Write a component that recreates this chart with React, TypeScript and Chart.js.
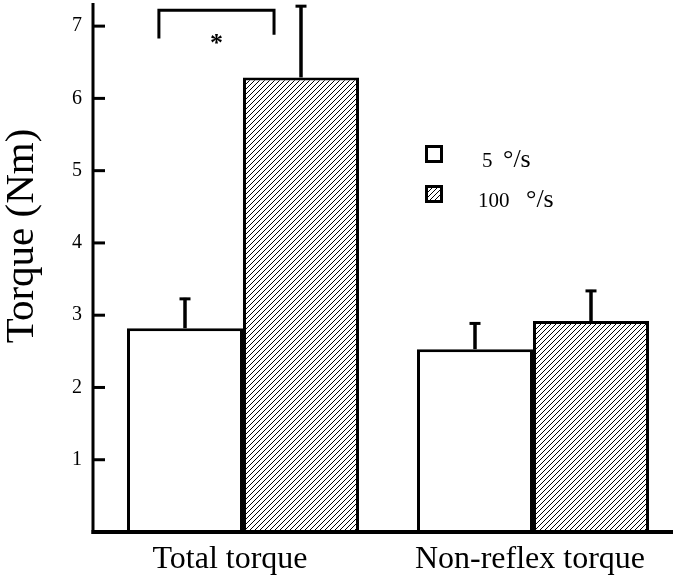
import React, { useEffect, useRef } from 'react';
import { Chart, registerables } from 'chart.js';

Chart.register(...registerables);

// ---- data ----
const categories = ['Total torque', 'Non-reflex torque'];
const seriesNames = ['5 °/s', '100 °/s'];
const slowMeans = [2.82, 2.53];
const slowSD = [0.42, 0.37];
const fastMeans = [6.29, 2.92];
const fastSD = [1.0, 0.43];
const yTickValues = [1, 2, 3, 4, 5, 6, 7];
const yMin = 0;
const yMax = 7.32;
const sigBracket = { x0: -0.29, x1: 0.107, top: 7.22, leftEnd: 6.83, rightEnd: 6.88, label: '*' };
const yTitle = 'Torque (Nm)';

// ---- style ----
const FONT = '"Liberation Serif", "Times New Roman", serif';
const categoryLabelNudge = [-13, -3];
const CANVAS_W = 680;
const CANVAS_H = 579;
const AXIS_X = 93; // pixel column of the drawn y axis line
const AXIS_RIGHT = 675;

function makeHatch(): CanvasPattern | string {
  const s = 5;
  const c = document.createElement('canvas');
  c.width = s;
  c.height = s;
  const g = c.getContext('2d');
  if (!g) return '#888';
  g.fillStyle = '#fff';
  g.fillRect(0, 0, s, s);
  g.strokeStyle = '#000';
  g.lineWidth = 1;
  g.beginPath();
  g.moveTo(0, s);
  g.lineTo(s, 0);
  g.moveTo(-1, 1);
  g.lineTo(1, -1);
  g.moveTo(s - 1, s + 1);
  g.lineTo(s + 1, s - 1);
  g.stroke();
  const p = g.createPattern(c, 'repeat');
  return p || '#888';
}

export default function App() {
  const ref = useRef<HTMLCanvasElement | null>(null);

  useEffect(() => {
    const canvas = ref.current;
    if (!canvas) return;
    const hatch = makeHatch();

    const overlay = {
      id: 'overlay',
      afterDatasetsDraw(chart: any) {
        const ctx = chart.ctx as CanvasRenderingContext2D;
        const xs = chart.scales.x;
        const ys = chart.scales.y;
        const area = chart.chartArea;
        ctx.save();
        ctx.strokeStyle = '#000';
        ctx.fillStyle = '#000';
        ctx.lineCap = 'butt';

        // error bars (upper only)
        const sds = [slowSD, fastSD];
        const means = [slowMeans, fastMeans];
        for (let d = 0; d < 2; d++) {
          const meta = chart.getDatasetMeta(d);
          meta.data.forEach((el: any, j: number) => {
            const yTop = ys.getPixelForValue(means[d][j] + sds[d][j]);
            const yBar = ys.getPixelForValue(means[d][j]);
            ctx.lineWidth = 3.5;
            ctx.beginPath();
            ctx.moveTo(el.x, yBar);
            ctx.lineTo(el.x, yTop);
            ctx.stroke();
            ctx.lineWidth = 3;
            ctx.beginPath();
            ctx.moveTo(el.x - 5.5, yTop + 1);
            ctx.lineTo(el.x + 5.5, yTop + 1);
            ctx.stroke();
          });
        }

        // axes lines
        const y0 = ys.getPixelForValue(0);
        ctx.lineWidth = 3;
        ctx.beginPath();
        ctx.moveTo(AXIS_X, area.top);
        ctx.lineTo(AXIS_X, y0 + 2);
        ctx.stroke();
        ctx.lineWidth = 4;
        ctx.beginPath();
        ctx.moveTo(AXIS_X - 1.5, y0);
        ctx.lineTo(AXIS_RIGHT - 2, y0);
        ctx.stroke();

        // inward y tick marks
        ctx.lineWidth = 3;
        yTickValues.forEach((v) => {
          const y = ys.getPixelForValue(v);
          ctx.beginPath();
          ctx.moveTo(AXIS_X, y);
          ctx.lineTo(AXIS_X + 12, y);
          ctx.stroke();
        });

        // significance bracket
        const bx0 = xs.getPixelForValue(sigBracket.x0);
        const bx1 = xs.getPixelForValue(sigBracket.x1);
        const bt = ys.getPixelForValue(sigBracket.top);
        ctx.lineWidth = 3;
        ctx.beginPath();
        ctx.moveTo(bx0, ys.getPixelForValue(sigBracket.leftEnd));
        ctx.lineTo(bx0, bt);
        ctx.lineTo(bx1, bt);
        ctx.lineTo(bx1, ys.getPixelForValue(sigBracket.rightEnd));
        ctx.stroke();
        ctx.font = `bold 26px ${FONT}`;
        ctx.textAlign = 'center';
        ctx.textBaseline = 'alphabetic';
        ctx.fillText(sigBracket.label, (bx0 + bx1) / 2, bt + 41);

        // legend
        const lx = 425;
        const ly = [145, 185];
        const numX = [482, 478];
        const unitX = [503, 526];
        const fills: any[] = ['#fff', hatch];
        ctx.textAlign = 'left';
        for (let i = 0; i < 2; i++) {
          ctx.fillStyle = fills[i];
          ctx.fillRect(lx, ly[i], 18, 18);
          ctx.lineWidth = 3;
          ctx.strokeStyle = '#000';
          ctx.strokeRect(lx + 1.5, ly[i] + 1.5, 15, 15);
          ctx.fillStyle = '#000';
          const name = seriesNames[i];
          const sp = name.indexOf(' ');
          ctx.font = `21px ${FONT}`;
          ctx.fillText(name.slice(0, sp), numX[i], ly[i] + 22);
          ctx.font = `26px ${FONT}`;
          ctx.fillText(name.slice(sp + 1), unitX[i], ly[i] + 22);
        }

        // category labels
        ctx.font = `32px ${FONT}`;
        ctx.textAlign = 'center';
        categories.forEach((c, i) => {
          ctx.fillText(c, xs.getPixelForValue(i) + categoryLabelNudge[i], 568);
        });

        // y title
        ctx.save();
        ctx.font = `41px ${FONT}`;
        ctx.translate(33, 236);
        ctx.rotate(-Math.PI / 2);
        ctx.textAlign = 'center';
        ctx.fillText(yTitle, 0, 0);
        ctx.restore();

        ctx.restore();
      },
    };

    const chart = new Chart(canvas, {
      type: 'bar',
      data: {
        labels: categories,
        datasets: [
          {
            label: seriesNames[0],
            data: slowMeans,
            backgroundColor: '#fff',
            borderColor: '#000',
            borderWidth: 3,
          },
          {
            label: seriesNames[1],
            data: fastMeans,
            backgroundColor: hatch as any,
            borderColor: '#000',
            borderWidth: 3,
          },
        ],
      },
      options: {
        responsive: false,
        animation: false,
        devicePixelRatio: 1,
        categoryPercentage: 0.8,
        barPercentage: 1.0,
        layout: { padding: { top: 3, right: 2, left: 0, bottom: 0 } },
        plugins: {
          legend: { display: false },
          tooltip: { enabled: false },
        },
        scales: {
          x: {
            type: 'category',
            offset: true,
            afterFit: (s: any) => {
              s.height = 47;
              s.paddingLeft = 0;
              s.paddingRight = 0;
            },
            grid: { display: false, drawTicks: false },
            border: { display: false },
            ticks: { display: false },
          },
          y: {
            min: yMin,
            max: yMax,
            afterBuildTicks: (s: any) => {
              s.ticks = yTickValues.map((v) => ({ value: v }));
            },
            afterFit: (s: any) => {
              s.width = 98;
              s.paddingTop = 0;
              s.paddingBottom = 0;
            },
            grid: { display: false, drawTicks: false },
            border: { display: false },
            ticks: {
              color: '#000',
              padding: 16,
              font: { family: FONT, size: 20 },
              callback: (v: any) => String(v),
            },
          },
        },
      } as any,
      plugins: [overlay],
    });

    return () => chart.destroy();
  }, []);

  return (
    <div
      style={{
        position: 'fixed',
        left: 0,
        top: 0,
        width: 675,
        height: 579,
        overflow: 'hidden',
        background: '#fff',
      }}
    >
      <canvas ref={ref} width={CANVAS_W} height={CANVAS_H} style={{ display: 'block' }} />
    </div>
  );
}
